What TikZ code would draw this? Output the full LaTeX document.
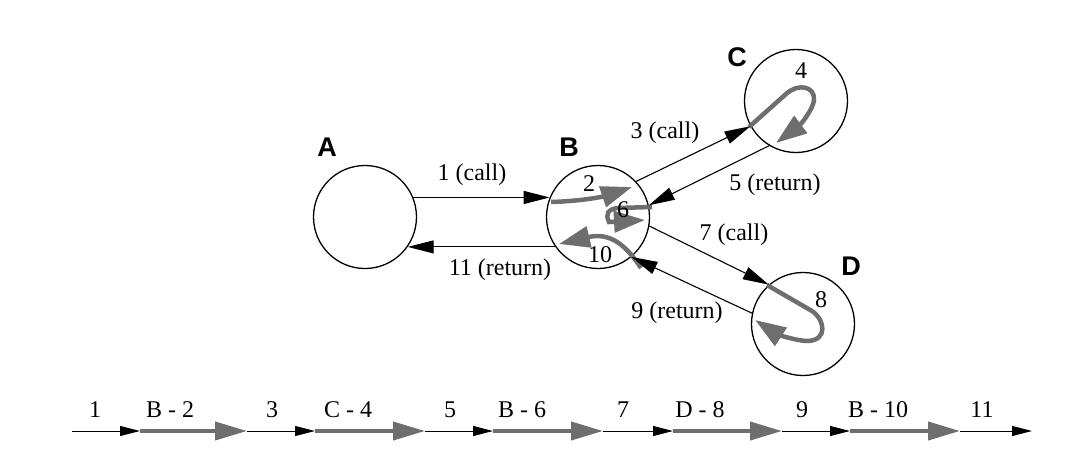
\documentclass[tikz,border=0pt]{standalone}
\usepackage{fontspec}
\setmainfont{Liberation Serif}
\newfontfamily\lsans{Liberation Sans}
\usetikzlibrary{arrows.meta}
\definecolor{pathgray}{RGB}{110,110,110}
\begin{document}
\begin{tikzpicture}[x=1pt,y=-1pt,
  proc/.style={circle,draw,line width=1.3pt,minimum size=103pt,inner sep=0pt},
  callarrow/.style={line width=1.1pt,-{Triangle[length=26pt,width=13pt]}},
  flow/.style={draw=pathgray,line width=4.5pt,-{Triangle[length=31pt,width=21pt]}},
  tlthin/.style={line width=1pt,-{Triangle[length=20pt,width=10pt]}},
  tlthick/.style={draw=pathgray,line width=4pt,-{Triangle[length=32pt,width=18pt]}},
  lbl/.style={font=\fontsize{24}{26}\selectfont,inner sep=0pt},
  big/.style={font=\lsans\bfseries\fontsize{27}{29}\selectfont,inner sep=0pt}
]
\useasboundingbox (0,0) rectangle (1080,471);

% processes
\node[proc] (A) at (365,217) {};
\node[proc] (B) at (598,217) {};
\node[proc] (C) at (796,101) {};
\node[proc] (D) at (803,324) {};

\node[big] (la) at (327,147) {A};
\node[big] (lb) at (569,147) {B};
\node[big] (lc) at (737,57) {C};
\node[big] (ld) at (851,266) {D};

% gray control-flow paths
\draw[flow] (551,202) .. controls (585,201) and (605,196) .. (632,187);
\draw[flow] (652,207) -- (618,208) .. controls (608,209) and (605,214) .. (609,222) -- (645,220);
\draw[flow] (641,268) .. controls (626,245) and (610,232) .. (559,244);
\draw[flow] (749,127) -- (786,94) .. controls (798,83) and (815,86) .. (814,100) .. controls (813,110) and (800,125) .. (776,143);
\draw[flow] (767,285) -- (812,311) .. controls (825,320) and (828,340) .. (808,341) .. controls (795,341) and (775,333) .. (755,320);

% calls and returns
\draw[callarrow] (A.22) -- (B.158);
\draw[callarrow] (B.215) -- (A.-35);
\draw[callarrow] (B.43) -- (C.209);
\draw[callarrow] (C.239) -- (B.13);
\draw[callarrow] (B.-10) -- (D.131);
\draw[callarrow] (D.168) -- (B.-50);

\node[lbl] (l1) at (472,175) {1 (call)};
\node[lbl] (l11) at (500,270) {11 (return)};
\node[lbl] (l3) at (665,133) {3 (call)};
\node[lbl] (l5) at (775,185) {5 (return)};
\node[lbl] (l7) at (734,235) {7 (call)};
\node[lbl] (l9) at (677,313) {9 (return)};

% numbers inside processes
\node[lbl] (n2) at (589,184) {2};
\node[lbl] (n6) at (623,210) {6};
\node[lbl] (n10) at (600,255) {10};
\node[lbl] (n4) at (801,71) {4};
\node[lbl] (n8) at (821,300) {8};

% timeline
\coordinate (t0) at (72,431);
\coordinate (k1) at (140,431);
\coordinate (g1) at (247,431);
\coordinate (k2) at (315,431);
\coordinate (g2) at (425,431);
\coordinate (k3) at (493,431);
\coordinate (g3) at (603,431);
\coordinate (k4) at (673,431);
\coordinate (g4) at (782,431);
\coordinate (k5) at (850,431);
\coordinate (g5) at (960,431);
\coordinate (k6) at (1032,431);

\draw[tlthin] (t0) -- (k1);
\draw[tlthin] (g1) -- (k2);
\draw[tlthin] (g2) -- (k3);
\draw[tlthin] (g3) -- (k4);
\draw[tlthin] (g4) -- (k5);
\draw[tlthin] (g5) -- (k6);
\draw[tlthick] (k1) -- (g1);
\draw[tlthick] (k2) -- (g2);
\draw[tlthick] (k3) -- (g3);
\draw[tlthick] (k4) -- (g4);
\draw[tlthick] (k5) -- (g5);

\node[lbl] (s1) at (95,410) {1};
\node[lbl] (s2) at (170,410) {B - 2};
\node[lbl] (s3) at (272,410) {3};
\node[lbl] (s4) at (348,410) {C - 4};
\node[lbl] (s5) at (450,410) {5};
\node[lbl] (s6) at (522,410) {B - 6};
\node[lbl] (s7) at (623,410) {7};
\node[lbl] (s8) at (700,410) {D - 8};
\node[lbl] (s9) at (802,410) {9};
\node[lbl] (s10) at (878,410) {B - 10};
\node[lbl] (s11) at (982,410) {11};
\end{tikzpicture}
\end{document}
